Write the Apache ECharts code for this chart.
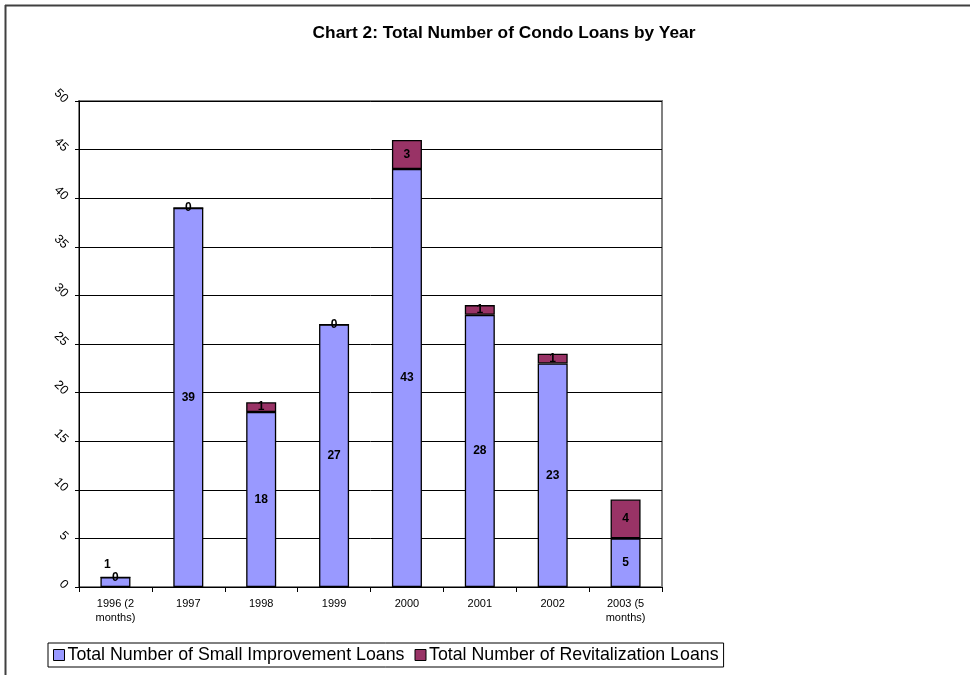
<!DOCTYPE html>
<html>
<head>
<meta charset="utf-8">
<script src="https://cdn.jsdelivr.net/npm/echarts@6/dist/echarts.min.js"></script>
<style>
  html, body { margin: 0; padding: 0; background: #fff; }
  #chart { width: 970px; height: 675px; }
</style>
</head>
<body>
<div id="chart"></div>
<script>
const years = ['1996 (2\nmonths)', '1997', '1998', '1999', '2000', '2001', '2002', '2003 (5\nmonths)'];
const smallImprovement = [1, 39, 18, 27, 43, 28, 23, 5];
const revitalization = [0, 0, 1, 0, 3, 1, 1, 4];
const yTicks = [0, 5, 10, 15, 20, 25, 30, 35, 40, 45, 50];

const chart = echarts.init(document.getElementById('chart'));

const labelStyle = {
    show: true,
    position: 'inside',
    color: '#000',
    fontFamily: 'Arial, Liberation Sans, sans-serif',
    fontWeight: 'bold',
    fontSize: 12
};

chart.setOption({
    animation: false,
    title: {
        text: 'Chart 2: Total Number of Condo Loans by Year',
        left: 499,
        top: 20,
        textAlign: 'center',
        textStyle: {
            fontFamily: 'Arial, Liberation Sans, sans-serif',
            fontSize: 17.3,
            fontWeight: 'bold',
            color: '#000'
        }
    },
    graphic: [
        { type: 'line', shape: { x1: 5, y1: 5.5, x2: 970, y2: 5.5 }, style: { stroke: '#404040', lineWidth: 2 } },
        { type: 'line', shape: { x1: 5.5, y1: 5, x2: 5.5, y2: 675 }, style: { stroke: '#404040', lineWidth: 2 } }
    ],
    legend: {
        left: 48,
        top: 643,
        icon: 'rect',
        itemWidth: 11,
        itemHeight: 11,
        itemGap: 10,
        padding: [3, 5, 3, 5],
        borderColor: '#000',
        borderWidth: 1,
        borderRadius: 0,
        textStyle: {
            fontFamily: 'Arial, Liberation Sans, sans-serif',
            fontSize: 17.8,
            color: '#000',
            padding: [0, 0, 0, -2]
        },
        data: [
            { name: 'Total Number of Small Improvement Loans', itemStyle: { borderColor: '#000', borderWidth: 1 } },
            { name: 'Total Number of Revitalization Loans', itemStyle: { borderColor: '#000', borderWidth: 1 } }
        ]
    },
    grid: {
        left: 79,
        top: 101,
        right: 308,
        bottom: 88,
        show: true,
        borderColor: '#808080',
        borderWidth: 2,
        containLabel: false
    },
    xAxis: {
        type: 'category',
        data: years,
        axisLine: { lineStyle: { color: '#000', width: 1 } },
        axisTick: { show: true, alignWithLabel: false, length: 5, lineStyle: { color: '#000' } },
        axisLabel: {
            color: '#000',
            fontFamily: 'Arial, Liberation Sans, sans-serif',
            fontSize: 11,
            lineHeight: 14,
            margin: 10
        }
    },
    yAxis: {
        type: 'value',
        min: yTicks[0],
        max: yTicks[yTicks.length - 1],
        interval: 5,
        axisLine: { show: true, lineStyle: { color: '#000', width: 1 } },
        axisTick: { show: true, length: 4, lineStyle: { color: '#000' } },
        splitLine: { lineStyle: { color: '#000', width: 1 } },
        axisLabel: {
            color: '#000',
            fontFamily: 'Arial, Liberation Sans, sans-serif',
            fontSize: 12.5,
            rotate: -45,
            margin: 13
        }
    },
    series: [
        {
            name: 'Total Number of Small Improvement Loans',
            type: 'bar',
            stack: 'total',
            barWidth: 30,
            itemStyle: { color: '#9999FF', borderColor: '#000', borderWidth: 1.3 },
            label: labelStyle,
            data: smallImprovement.map((v, i) => i === 0
                ? { value: v, label: { position: 'top', offset: [-8, -2] } }
                : v)
        },
        {
            name: 'Total Number of Revitalization Loans',
            type: 'bar',
            stack: 'total',
            barWidth: 30,
            itemStyle: { color: '#993366', borderColor: '#000', borderWidth: 1.3 },
            label: labelStyle,
            data: revitalization
        }
    ]
});
</script>
</body>
</html>
